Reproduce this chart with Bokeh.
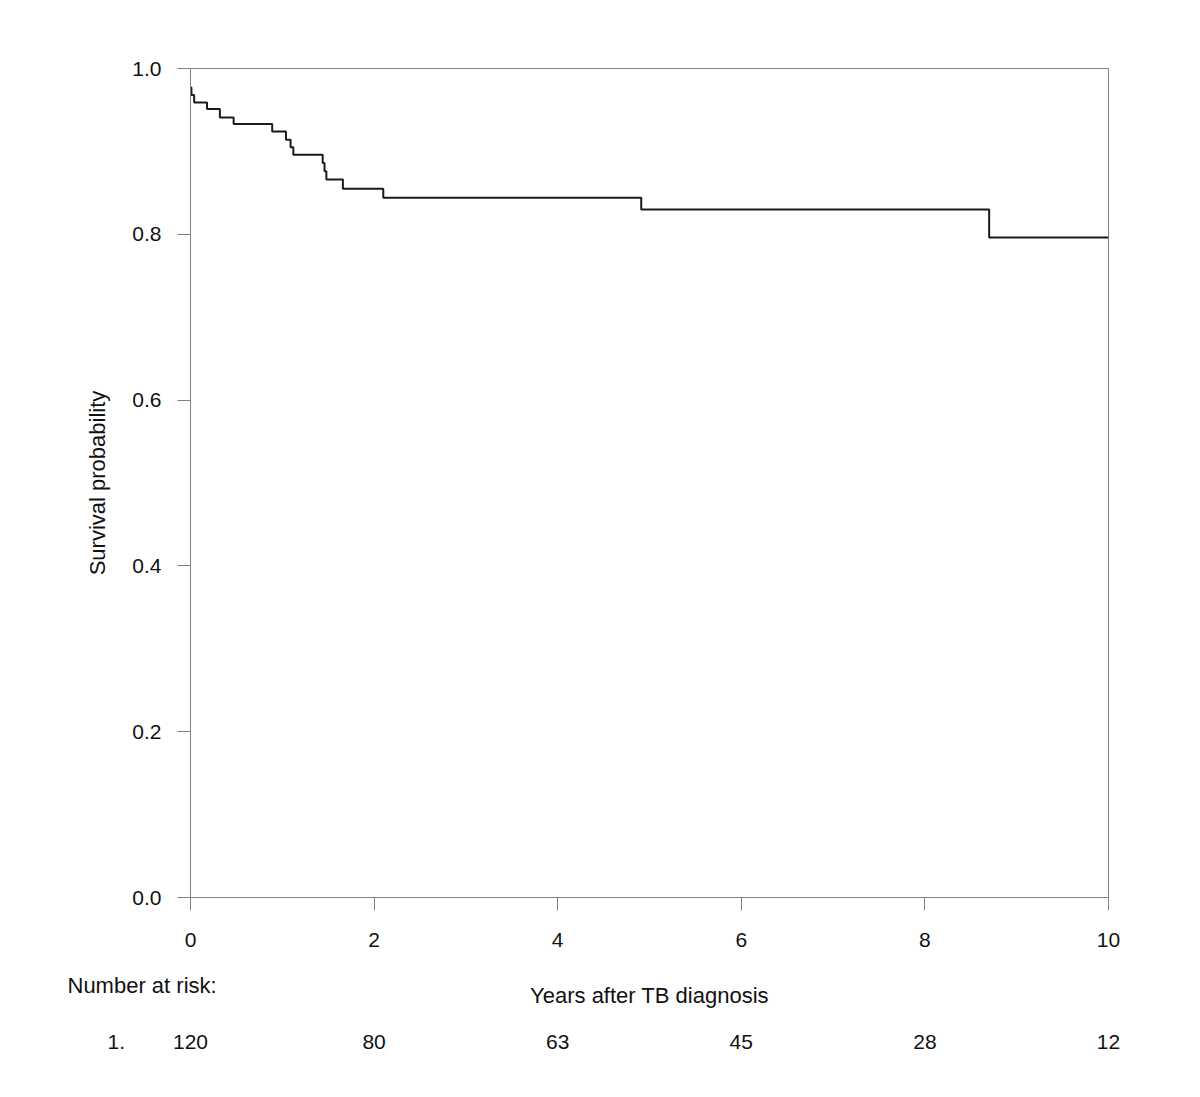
from bokeh.plotting import figure
from bokeh.models import Range1d, FixedTicker, ColumnDataSource
from bokeh.core.properties import value
from bokeh.embed import file_html
from bokeh.resources import INLINE

# Kaplan-Meier estimate (step after each time)
times = [0.0, 0.01, 0.04, 0.18, 0.32, 0.47, 0.89, 1.04, 1.09, 1.12,
         1.44, 1.46, 1.48, 1.66, 2.10, 4.91, 8.70, 10.0]
surv = [0.977, 0.968, 0.959, 0.951, 0.941, 0.933, 0.924, 0.914, 0.905, 0.896,
        0.886, 0.876, 0.866, 0.855, 0.844, 0.830, 0.796, 0.796]

x_ticks = [0, 2, 4, 6, 8, 10]
y_ticks = [0.0, 0.2, 0.4, 0.6, 0.8, 1.0]
risk_times = [0, 2, 4, 6, 8, 10]
risk_counts = ["120", "80", "63", "45", "28", "12"]

FONT = "Liberation Sans"
FS_NUM = "21px"
FS_TXT = "22px"
GREY = "#808080"
TXT = "#111111"

W = 1184
LEFT, TOP, FW, FH, BOT_A = 190, 68, 918, 829, 65
HA = TOP + FH + BOT_A
HB = 1081 - HA

p = figure(width=W, height=HA, frame_width=FW, frame_height=FH,
           output_backend="svg", toolbar_location=None,
           x_range=Range1d(0, 10), y_range=Range1d(0, 1),
           min_border_left=LEFT, min_border_right=W - LEFT - FW,
           min_border_top=TOP, min_border_bottom=BOT_A)
p.background_fill_color = "white"
p.border_fill_color = "white"
p.outline_line_color = GREY
p.outline_line_width = 1
p.grid.visible = False

p.step(times, surv, mode="after", line_color="#1a1a1a", line_width=2)

for ax in (p.xaxis[0], p.yaxis[0]):
    ax.axis_line_color = GREY
    ax.major_tick_line_color = GREY
    ax.minor_tick_line_color = None
    ax.major_tick_in = 0
    ax.major_tick_out = 13
    ax.major_label_text_font = FONT
    ax.major_label_text_font_size = FS_NUM
    ax.major_label_text_color = TXT

p.xaxis[0].ticker = FixedTicker(ticks=x_ticks)
p.xaxis[0].major_label_standoff = 22
p.yaxis[0].ticker = FixedTicker(ticks=y_ticks)
p.yaxis[0].major_label_overrides = {v: f"{v:.1f}" for v in y_ticks}
p.yaxis[0].major_label_standoff = 16
p.yaxis[0].axis_label = "Survival probability"
p.yaxis[0].axis_label_text_font = FONT
p.yaxis[0].axis_label_text_font_size = FS_TXT
p.yaxis[0].axis_label_text_font_style = "normal"
p.yaxis[0].axis_label_text_color = TXT
p.yaxis[0].axis_label_standoff = 19

# lower panel: number-at-risk table on the same year scale (frame = whole canvas)
px_per_year = FW / 10.0
q = figure(width=W, height=HB, frame_width=W, frame_height=HB,
           output_backend="svg", toolbar_location=None,
           x_range=Range1d(-LEFT / px_per_year, (W - LEFT) / px_per_year),
           y_range=Range1d(HA + HB, HA),
           min_border_left=0, min_border_right=0,
           min_border_top=0, min_border_bottom=0)
q.axis.visible = False
q.grid.visible = False
q.outline_line_color = None
q.background_fill_color = "white"
q.border_fill_color = "white"

def txt(fig, x, y, t, align, fs):
    fig.text(x=[x], y=[y], text=[t], text_font=value(FONT), text_font_size=value(fs),
             text_color=TXT, text_align=align, text_baseline="middle")

txt(q, (67 - LEFT) / px_per_year, 985, "Number at risk:", "left", FS_TXT)
txt(q, 5.0, 995, "Years after TB diagnosis", "center", FS_TXT)
txt(q, (107 - LEFT) / px_per_year, 1041, "1.", "left", FS_NUM)

src = ColumnDataSource(dict(x=risk_times, y=[1041] * len(risk_times), t=risk_counts))
q.text(x="x", y="y", text="t", source=src, text_font=value(FONT),
       text_font_size=value(FS_NUM), text_color=TXT, text_align="center",
       text_baseline="middle")

open("out.html", "w").write(file_html([p, q], INLINE))
